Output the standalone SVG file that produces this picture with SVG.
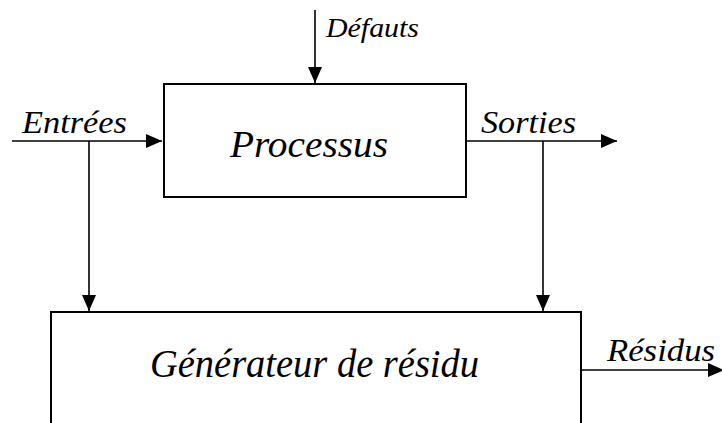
<svg xmlns="http://www.w3.org/2000/svg" width="722" height="423" viewBox="0 0 722 423">
<style>
.box{fill:#fff;stroke:#000;stroke-width:2}
.ln{stroke:#000;stroke-width:1.6;fill:none}
text{font-family:'Liberation Serif','Times New Roman',serif;font-style:italic;fill:#000}
</style>
<defs>
<marker id="ah" viewBox="0 0 16 14" refX="16" refY="7" markerWidth="16" markerHeight="14" markerUnits="userSpaceOnUse" orient="auto">
<path d="M0,0 L16,7 L0,14 Z" fill="#000"/>
</marker>
</defs>
<rect width="722" height="423" fill="#fff"/>
<g id="connectors">
<line class="ln" x1="315" y1="10" x2="315" y2="83" marker-end="url(#ah)"/>
<line class="ln" x1="12" y1="141" x2="162" y2="141" marker-end="url(#ah)"/>
<line class="ln" x1="467" y1="141" x2="617" y2="141" marker-end="url(#ah)"/>
<line class="ln" x1="89" y1="141" x2="89" y2="311" marker-end="url(#ah)"/>
<line class="ln" x1="543" y1="141" x2="543" y2="311" marker-end="url(#ah)"/>
<line class="ln" x1="581" y1="370" x2="724" y2="370" marker-end="url(#ah)"/>
</g>
<g id="processus">
<rect class="box" x="164" y="84" width="302" height="113"/>
<text x="230" y="157" font-size="38" textLength="158" lengthAdjust="spacingAndGlyphs">Processus</text>
</g>
<g id="generateur">
<rect class="box" x="51" y="312" width="530" height="130"/>
<text x="150" y="377" font-size="40" textLength="329" lengthAdjust="spacingAndGlyphs">Générateur de résidu</text>
</g>
<g id="labels">
<text x="326" y="37" font-size="27" textLength="93" lengthAdjust="spacingAndGlyphs">Défauts</text>
<text x="22" y="133" font-size="31" textLength="105" lengthAdjust="spacingAndGlyphs">Entrées</text>
<text x="481" y="133" font-size="31" textLength="95" lengthAdjust="spacingAndGlyphs">Sorties</text>
<text x="607" y="361" font-size="31" textLength="108" lengthAdjust="spacingAndGlyphs">Résidus</text>
</g>
</svg>
